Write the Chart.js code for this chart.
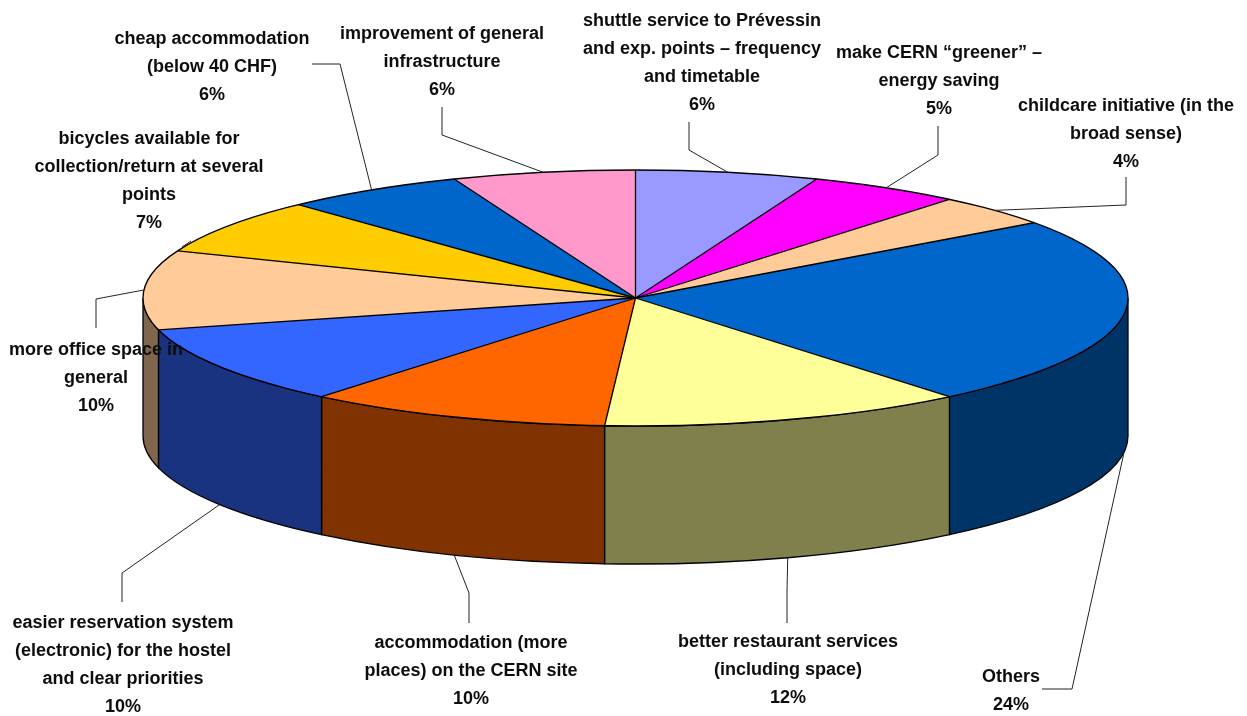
<!DOCTYPE html>
<html>
<head>
<meta charset="utf-8">
<script src="https://cdn.jsdelivr.net/npm/chart.js@4/dist/chart.umd.min.js"></script>
<style>
html, body { margin: 0; background: #fff; }
canvas { display: block; }
</style>
</head>
<body>
<canvas id="c" width="1247" height="716"></canvas>
<script>
// slices, clockwise from 12 o'clock
const categories = [
    ["shuttle service to Prévessin", "and exp. points \u2013 frequency", "and timetable"],
    ["make CERN \u201cgreener\u201d \u2013", "energy saving"],
    ["childcare initiative (in the", "broad sense)"],
    ["Others"],
    ["better restaurant services", "(including space)"],
    ["accommodation (more", "places) on the CERN site"],
    ["easier reservation system", "(electronic) for the hostel", "and clear priorities"],
    ["more office space in", "general"],
    ["bicycles available for", "collection/return at several", "points"],
    ["cheap accommodation", "(below 40 CHF)"],
    ["improvement of general", "infrastructure"]
];
const shares = [6, 5, 4, 24, 12, 10, 10, 10, 7, 6, 6];

const topColors = ["#9999FF", "#FF00FF", "#FFCC99", "#0066CC", "#FFFF99", "#FF6600",
                   "#3366FF", "#FFCC99", "#FFCC00", "#0066CC", "#FF99CC"];

// label placement: text centre x, first baseline y, leader points towards the pie
const labelPos = [
    {x: 702, y: 26, lead: [[689, 122], [689, 150]]},
    {x: 939, y: 58, lead: [[938, 126], [938, 155]]},
    {x: 1126, y: 111, lead: [[1126, 177], [1126, 205]]},
    {x: 1011, y: 682, lead: [[1042, 689], [1072, 689]]},
    {x: 788, y: 647, lead: [[787, 623], [787, 592]]},
    {x: 471, y: 648, lead: [[469, 623], [469, 593]]},
    {x: 123, y: 628, lead: [[122, 602], [122, 573]]},
    {x: 96, y: 355, lead: [[96, 328], [96, 299]]},
    {x: 149, y: 144, lead: [[182, 247], [191, 241]], noAnchor: true},
    {x: 212, y: 44, lead: [[312, 64], [340, 64]]},
    {x: 442, y: 39, lead: [[442, 107], [442, 135]]}
];

// 3d geometry of the pie on the page
const CX = 635.5, CY = 298, RX = 492.5, RY = 128, DEPTH = 138;
const LINE_H = 28;

function darker(hex){
    let n = parseInt(hex.slice(1), 16);
    let r = Math.round(((n >> 16) & 255) / 2);
    let g = Math.round(((n >> 8) & 255) / 2);
    let b = Math.round((n & 255) / 2);
    return "rgb(" + r + "," + g + "," + b + ")";
}

const pie3d = {
    id: "pie3d",
    beforeDatasetsDraw(chart){
        const ctx = chart.ctx;
        const arcs = chart.getDatasetMeta(0).data;

        // side walls of the front half
        ctx.save();
        ctx.lineWidth = 1.3;
        ctx.strokeStyle = "#000";
        arcs.forEach((el, i) => {
            let lo = Math.max(el.startAngle, 0);
            let hi = Math.min(el.endAngle, Math.PI);
            if(hi <= lo) return;
            ctx.beginPath();
            ctx.ellipse(CX, CY, RX, RY, 0, lo, hi, false);
            ctx.lineTo(CX + RX * Math.cos(hi), CY + RY * Math.sin(hi) + DEPTH);
            ctx.ellipse(CX, CY + DEPTH, RX, RY, 0, hi, lo, true);
            ctx.closePath();
            ctx.fillStyle = darker(topColors[i]);
            ctx.fill();
            ctx.stroke();
        });
        ctx.restore();

        // squash the library's round pie into the top ellipse
        const el = arcs[0];
        const R = el.outerRadius;
        ctx.save();
        ctx.translate(CX, CY);
        ctx.scale(RX / R, RY / R);
        ctx.translate(-el.x, -el.y);
    },
    afterDatasetsDraw(chart){
        const ctx = chart.ctx;
        ctx.restore();

        const arcs = chart.getDatasetMeta(0).data;
        ctx.save();
        ctx.strokeStyle = "#000";
        ctx.lineWidth = 1.3;
        arcs.forEach(el => {
            ctx.beginPath();
            ctx.moveTo(CX, CY);
            ctx.lineTo(CX + RX * Math.cos(el.startAngle), CY + RY * Math.sin(el.startAngle));
            ctx.stroke();
        });
        ctx.beginPath();
        ctx.ellipse(CX, CY, RX, RY, 0, 0, Math.PI * 2);
        ctx.stroke();
        ctx.restore();
    },
    afterDraw(chart){
        const ctx = chart.ctx;
        const arcs = chart.getDatasetMeta(0).data;
        const total = shares.reduce((a, b) => a + b, 0);

        ctx.save();
        // leader lines
        ctx.strokeStyle = "#222";
        ctx.lineWidth = 1;
        arcs.forEach((el, i) => {
            let p = labelPos[i];
            ctx.beginPath();
            ctx.moveTo(p.lead[0][0], p.lead[0][1]);
            for(let k = 1; k < p.lead.length; k++) ctx.lineTo(p.lead[k][0], p.lead[k][1]);
            if(!p.noAnchor){
                let a = (el.startAngle + el.endAngle) / 2;
                let ax = CX + RX * Math.cos(a);
                let ay = CY + RY * Math.sin(a) + (Math.sin(a) > 0 ? DEPTH : 0);
                ctx.lineTo(ax, ay);
            }
            ctx.stroke();
        });

        // label text
        ctx.fillStyle = "#0d0d0d";
        ctx.font = "bold 18px 'Liberation Sans', Arial, sans-serif";
        ctx.textAlign = "center";
        ctx.textBaseline = "alphabetic";
        chart.data.labels.forEach((lab, i) => {
            let p = labelPos[i];
            let lines = lab.concat([Math.round(shares[i] / total * 100) + "%"]);
            lines.forEach((t, k) => ctx.fillText(t, p.x, p.y + k * LINE_H));
        });
        ctx.restore();
    }
};

new Chart(document.getElementById("c"), {
    type: "pie",
    data: {
        labels: categories,
        datasets: [{
            data: shares,
            backgroundColor: topColors,
            borderWidth: 0,
            clip: false
        }]
    },
    options: {
        responsive: false,
        animation: false,
        events: [],
        layout: { padding: 0 },
        plugins: {
            legend: { display: false },
            tooltip: { enabled: false }
        }
    },
    plugins: [pie3d]
});
</script>
</body>
</html>
